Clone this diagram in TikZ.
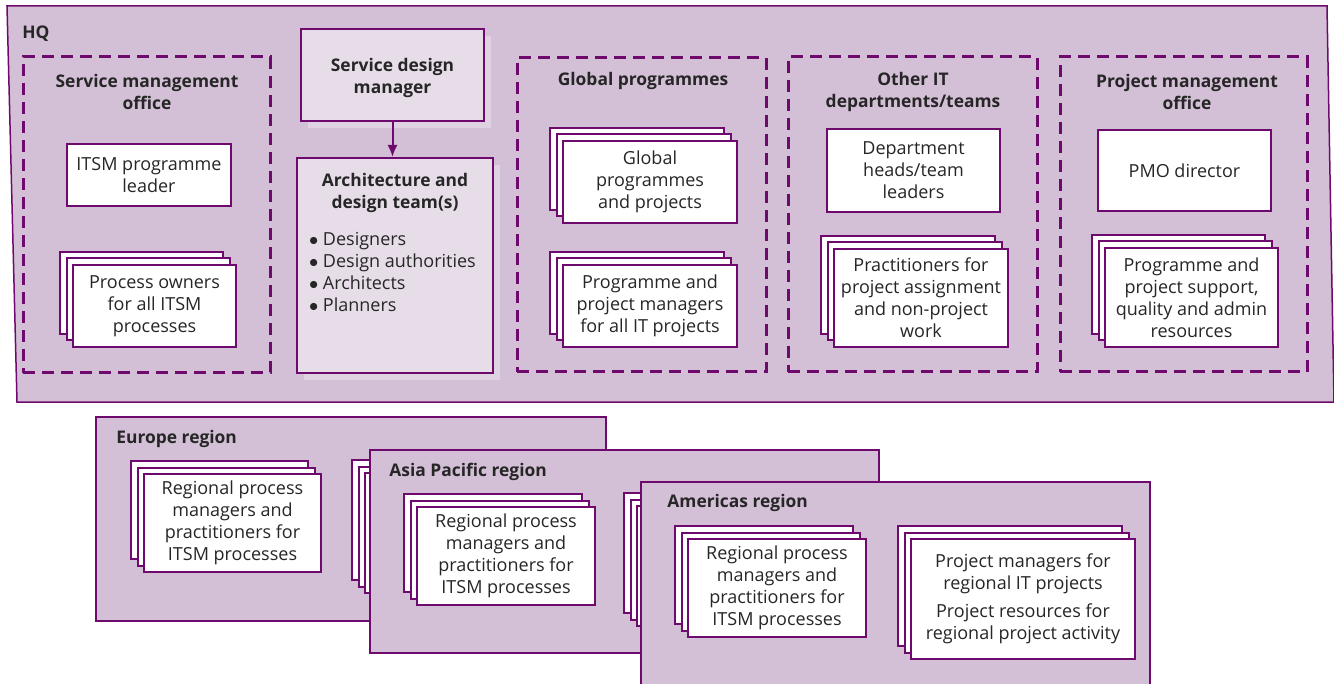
\documentclass[tikz,border=0pt]{standalone}
\usepackage{fontspec}
\setmainfont{Open Sans}
\usetikzlibrary{positioning,arrows.meta,shadows}

\definecolor{plum}{HTML}{6E0A6E}
\definecolor{mauve}{HTML}{D3BFD6}
\definecolor{lilac}{HTML}{E7DDE9}
\definecolor{lilacshade}{HTML}{DFD2E2}

% a pile of three cards, front card named #1
\newcommand{\cardstack}[6]{%
  \foreach \off in {13,6.5}
    \node[card, minimum width=#4, minimum height=#5] at ({#2-\off},{#3-\off}) {};
  \node[card, minimum width=#4, minimum height=#5] (#1) at (#2,#3) {#6};
}
\newcommand{\bul}{$\bullet$\ }

\begin{document}
\begin{tikzpicture}[
    x=0.5pt, y=-0.5pt,
    every node/.style={font=\fontsize{9}{11}\selectfont, align=center, text=black!85},
    ttl/.style={font=\fontsize{8.7}{11}\selectfont\bfseries, inner sep=3pt},
    panel/.style={rectangle, draw=plum, fill=mauve, line width=0.75pt},
    office/.style={rectangle, draw=plum, line width=1.5pt, dash pattern=on 6pt off 3.5pt},
    card/.style={rectangle, draw=plum, fill=white, line width=1pt, inner sep=2pt},
    designbox/.style={rectangle, draw=plum, fill=lilac, line width=1pt,
      drop shadow={shadow xshift=3.5pt, shadow yshift=-3.5pt, fill=lilacshade, opacity=1}},
    flow/.style={-{Latex[length=6pt,width=5pt]}, draw=plum, line width=1pt}
]
\useasboundingbox (0,0) rectangle (1334,684);

% HQ
\draw[panel] (7,6) -- (1327,6) -- (1334,402) -- (17,402) -- cycle;
\node[ttl, anchor=west] (hq) at (16,34) {HQ};

% Service management office
\node[office, minimum width=123.5pt, minimum height=158pt] (smo) at (146.5,215) {};
\node[ttl] (smottl) at (147,92) {Service management\\office};
\node[card, minimum width=82pt, minimum height=31pt] (itsmlead) at (149,175) {ITSM programme\\leader};
\cardstack{owners}{154.5}{306}{81.5pt}{41pt}{Process owners\\for all ITSM\\processes}

% Service design
\node[designbox, minimum width=91.5pt, minimum height=46pt] (smgr) at (392.5,75) {};
\node[ttl] (smgrttl) at (392.5,78) {Service design\\manager};
\node[designbox, minimum width=98pt, minimum height=107.5pt] (arch) at (395,265.5) {};
\node[ttl] (archttl) at (395,193) {Architecture and\\design team(s)};
\node[anchor=west, align=left] (archlist) at (302,272)
  {\bul Designers\\\bul Design authorities\\\bul Architects\\\bul Planners};
\draw[flow] (smgr.south) -- (smgr.south |- arch.north);

% Global programmes
\node[office, minimum width=124.5pt, minimum height=157pt] (glob) at (641.5,215) {};
\node[ttl] (globttl) at (643,81) {Global programmes};
\cardstack{gprog}{650}{182}{87pt}{41pt}{Global\\programmes\\and projects}
\cardstack{gmgr}{650}{306}{87pt}{41pt}{Programme and\\project managers\\for all IT projects}

% Other IT departments
\node[office, minimum width=124.5pt, minimum height=157.5pt] (other) at (912.5,214.5) {};
\node[ttl] (otherttl) at (913,92) {Other IT\\departments/teams};
\node[card, minimum width=86.5pt, minimum height=41.5pt] (depthead) at (913.5,170.5) {Department\\heads/team\\leaders};
\cardstack{pract}{921}{298}{87pt}{49pt}{Practitioners for\\project assignment\\and non-project\\work}

% Project management office
\node[office, minimum width=123.5pt, minimum height=157.5pt] (pmo) at (1183.5,214.5) {};
\node[ttl] (pmottl) at (1187,92) {Project management\\office};
\node[card, minimum width=86.5pt, minimum height=40.5pt] (pmodir) at (1184.5,170.5) {PMO director};
\cardstack{pmosup}{1191.5}{297.5}{86.5pt}{49.5pt}{Programme and\\project support,\\quality and admin\\resources}

% Europe region
\node[panel, minimum width=255pt, minimum height=102pt] (eur) at (351,519) {};
\node[ttl, anchor=west] (eurttl) at (110,439) {Europe region};
\cardstack{eurproc}{232.5}{523}{88.5pt}{49pt}{Regional process\\managers and\\practitioners for\\ITSM processes}
\cardstack{eurproj}{477}{533}{112pt}{60pt}{}

% Asia Pacific region
\node[panel, minimum width=254.5pt, minimum height=101.5pt] (asia) at (624.5,551.5) {};
\node[ttl, anchor=west] (asiattl) at (383,472) {Asia Pacific region};
\cardstack{asiaproc}{506}{556}{89pt}{49pt}{Regional process\\managers and\\practitioners for\\ITSM processes}
\cardstack{asiaproj}{749}{566}{112pt}{60pt}{}

% Americas region
\node[panel, minimum width=254.5pt, minimum height=109pt] (amer) at (895.5,591) {};
\node[ttl, anchor=west] (amerttl) at (661,503) {Americas region};
\cardstack{amerproc}{777}{588}{89pt}{49pt}{Regional process\\managers and\\practitioners for\\ITSM processes}
\cardstack{amerproj}{1023}{599}{112pt}{60pt}{Project managers for\\regional IT projects\\[3pt]Project resources for\\regional project activity}
\end{tikzpicture}
\end{document}
